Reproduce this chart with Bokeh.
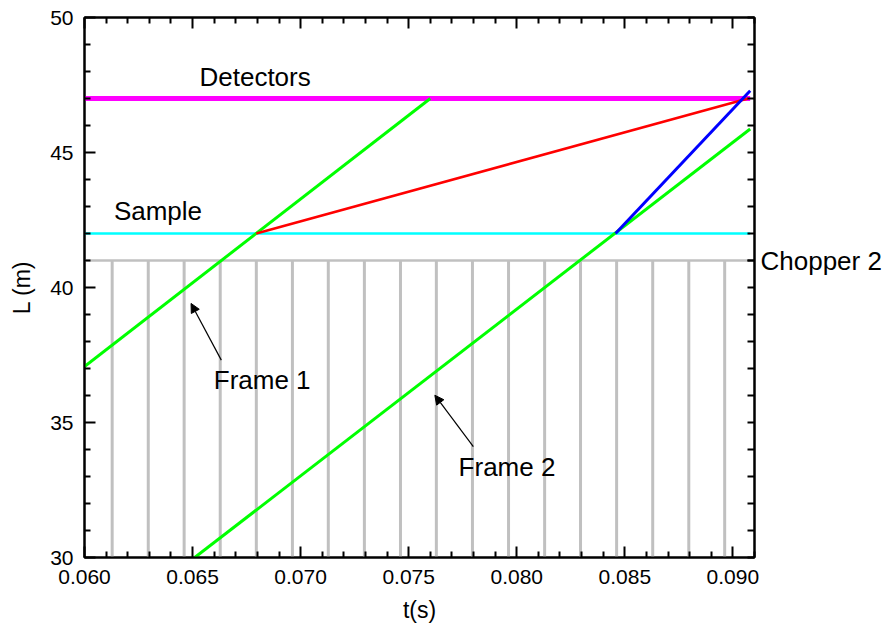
from bokeh.plotting import figure
from bokeh.models import (Range1d, LinearAxis, FixedTicker, NumeralTickFormatter,
                          CustomJSTickFormatter, Label, Arrow, NormalHead)
from bokeh.embed import file_html
from bokeh.resources import INLINE

# ---- data ----
chopper_times = [0.06128, 0.06295, 0.06461, 0.06628, 0.06795, 0.06962, 0.07128, 0.07295,
                 0.07462, 0.07628, 0.07795, 0.07962, 0.08129, 0.08295, 0.08462, 0.08629,
                 0.08796, 0.08962]
chopper_bottom = 30.0
chopper_L = 41.0
sample_L = 42.0
detector_L = 47.0
hline_t = [0.0600, 0.0908]

frame1_t = [0.0600, 0.0760]
frame1_L = [37.07, 47.0]
frame2_t = [0.0651, 0.0908]
frame2_L = [30.0, 45.87]
red_t = [0.06795, 0.0907]
red_L = [42.0, 47.0]
blue_t = [0.08457, 0.0908]
blue_L = [42.0, 47.29]

x_major = [0.060, 0.065, 0.070, 0.075, 0.080, 0.085, 0.090]
x_minor = [0.061, 0.062, 0.063, 0.064, 0.066, 0.067, 0.068, 0.069, 0.071, 0.072, 0.073, 0.074,
           0.076, 0.077, 0.078, 0.079, 0.081, 0.082, 0.083, 0.084, 0.086, 0.087, 0.088, 0.089, 0.091]
y_major = [30, 35, 40, 45, 50]
y_minor = [31, 32, 33, 34, 36, 37, 38, 39, 41, 42, 43, 44, 46, 47, 48, 49]
right_ticks = [30, 35, 40, 41, 45, 50]
chopper_name = "Chopper 2"

FONT = "Liberation Sans"

p = figure(width=886, height=632, output_backend="svg", toolbar_location=None,
           x_range=Range1d(0.060, 0.0910), y_range=Range1d(30, 50),
           x_axis_location=None, y_axis_location=None,
           min_border_left=84, min_border_right=132, min_border_top=17, min_border_bottom=75)
p.grid.visible = False
p.outline_line_color = "black"
p.outline_line_width = 2
p.background_fill_color = "white"
p.border_fill_color = "white"

def make_axis(ticks, minor, show_labels, label=None):
    ax = LinearAxis(ticker=FixedTicker(ticks=ticks, minor_ticks=minor))
    ax.axis_line_width = 2
    ax.axis_line_color = "black"
    ax.major_tick_in = 11
    ax.major_tick_out = 0
    ax.minor_tick_in = 6
    ax.minor_tick_out = 0
    ax.major_tick_line_width = 2
    ax.minor_tick_line_width = 2
    ax.major_label_text_font = FONT
    ax.major_label_text_font_size = "21px"
    ax.major_label_text_color = "black"
    if not show_labels:
        ax.major_label_text_font_size = "0px"
        ax.major_label_text_alpha = 0
    if label:
        ax.axis_label = label
        ax.axis_label_text_font = FONT
        ax.axis_label_text_font_size = "23px"
        ax.axis_label_text_font_style = "normal"
        ax.axis_label_text_color = "black"
    return ax

bottom = make_axis(x_major, x_minor, True, "t(s)")
bottom.formatter = NumeralTickFormatter(format="0.000")
bottom.major_label_standoff = 12
bottom.axis_label_standoff = 10
top = make_axis(x_major, x_minor, False)
left = make_axis(y_major, y_minor, True, "L (m)")
left.major_label_standoff = 11
left.axis_label_standoff = 12

# right axis: same-length inward ticks, carries the "Chopper 2" label at L = 41
right = make_axis(right_ticks, y_minor, True)
right.major_tick_in = 7
right.minor_tick_in = 7
right.major_label_text_font_size = "26px"
right.major_label_standoff = 6
right.formatter = CustomJSTickFormatter(args=dict(name=chopper_name, at=chopper_L),
                                        code="return tick == at ? name : '';")
p.add_layout(bottom, "below")
p.add_layout(top, "above")
p.add_layout(left, "left")
p.add_layout(right, "right")

# chopper openings
p.segment(x0=chopper_times, x1=chopper_times,
          y0=[chopper_bottom] * len(chopper_times), y1=[chopper_L] * len(chopper_times),
          line_color="#c0c0c0", line_width=3)
p.line(hline_t, [chopper_L, chopper_L], line_color="#c0c0c0", line_width=2.5)
p.line(hline_t, [sample_L, sample_L], line_color="#00ffff", line_width=2.5)
p.line(hline_t, [detector_L, detector_L], line_color="#ff00ff", line_width=5)

p.line(frame1_t, frame1_L, line_color="#00ff00", line_width=3)
p.line(frame2_t, frame2_L, line_color="#00ff00", line_width=3)
p.line(red_t, red_L, line_color="#ff0000", line_width=2.5)
p.line(blue_t, blue_L, line_color="#0000ff", line_width=3)

def add_label(x, y, txt):
    p.add_layout(Label(x=x, y=y, text=txt, text_font=FONT, text_font_size="26px",
                       text_color="black", text_baseline="middle", text_align="left"))

add_label(0.06532, 47.80, "Detectors")
add_label(0.06136, 42.84, "Sample")
add_label(0.06598, 36.58, "Frame 1")
add_label(0.07731, 33.36, "Frame 2")

p.add_layout(Arrow(x_start=0.06633, y_start=37.31, x_end=0.06493, y_end=39.41,
                   line_width=1.2, line_color="black",
                   end=NormalHead(size=9, fill_color="black", line_color="black")))
p.add_layout(Arrow(x_start=0.07799, y_start=34.11, x_end=0.07621, y_end=36.01,
                   line_width=1.2, line_color="black",
                   end=NormalHead(size=9, fill_color="black", line_color="black")))

open("out.html", "w").write(file_html(p, INLINE))
